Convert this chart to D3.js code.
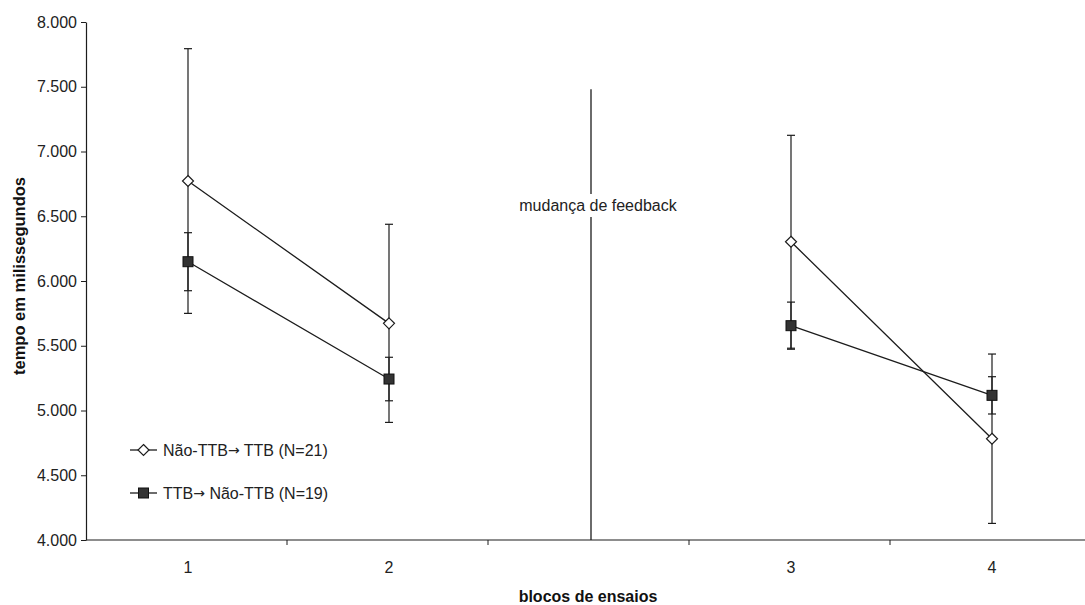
<!DOCTYPE html>
<html>
<head>
<meta charset="utf-8">
<script src="https://cdn.jsdelivr.net/npm/d3@7"></script>
<style>
  html, body { margin: 0; padding: 0; background: #fff; }
  svg { display: block; font-family: "Liberation Sans", Arial, sans-serif; }
</style>
</head>
<body>
<svg id="chart" width="1085" height="605"></svg>
<script>
// Blocks of trials; the empty slot marks the feedback change between blocks 2 and 3
const blocks = ["1", "2", "", "3", "4"];

// Mean response time (ms) and error bar half-length per block
const naoTtbMean = [6772, 5673, null, 6303, 4782];
const naoTtbErr  = [1022, 765, null, 822, 654];
const ttbMean    = [6149, 5243, null, 5655, 5117];
const ttbErr     = [224, 168, null, 182, 144];

// Legend labels split around the arrow so the arrow can use its own glyph font
const seriesNames = [["Não-TTB", "→", " TTB (N=21)"], ["TTB", "→", " Não-TTB (N=19)"]];
const yTicks = [4000, 4500, 5000, 5500, 6000, 6500, 7000, 7500, 8000];
const annotationText = "mudança de feedback";
const annotationTop = 7480;

const svg = d3.select("#chart");
const ink = "#1c1c1c";

const x = d3.scaleBand().domain(blocks).range([86, 1091]).padding(0);
const y = d3.scaleLinear().domain([4000, 8000]).range([540, 22]);
const cx = b => x(b) + x.bandwidth() / 2 + 1.5;

const fmt = d3.formatLocale({ decimal: ",", thousands: ".", grouping: [3], currency: ["", ""] }).format(",");

// Y axis
const yAxis = svg.append("g").attr("transform", "translate(86,0)")
  .call(d3.axisLeft(y).tickValues(yTicks).tickFormat(fmt).tickSize(5).tickSizeOuter(0));
yAxis.select(".domain").attr("stroke", ink).attr("stroke-width", 1.2);
yAxis.selectAll(".tick line").attr("stroke", ink);
yAxis.selectAll(".tick text").attr("font-size", 16).attr("fill", "#222").attr("x", -9)
  .attr("font-family", "'Liberation Sans', Arial, sans-serif");

// X axis: line, ticks at block boundaries, block labels centred
svg.append("line").attr("x1", 86).attr("x2", 1085).attr("y1", 540).attr("y2", 540)
  .attr("stroke", ink).attr("stroke-width", 1.2);
svg.append("g").selectAll("line").data(blocks.slice(1)).join("line")
  .attr("x1", d => x(d)).attr("x2", d => x(d)).attr("y1", 540).attr("y2", 545)
  .attr("stroke", ink).attr("stroke-width", 1);
svg.append("g").selectAll("text").data(blocks.filter(b => b !== "")).join("text")
  .attr("x", d => cx(d)).attr("y", 573).attr("text-anchor", "middle")
  .attr("font-size", 16).attr("fill", "#222").text(d => d);

// Axis titles
svg.append("text").attr("x", 588).attr("y", 602).attr("text-anchor", "middle")
  .attr("font-size", 16).attr("font-weight", "bold").attr("fill", "#111").text("blocos de ensaios");
svg.append("text").attr("transform", "translate(24.5,276) rotate(-90)").attr("text-anchor", "middle")
  .attr("font-size", 16.5).attr("font-weight", "bold").attr("fill", "#111").text("tempo em milissegundos");

// Feedback change marker
const gapX = cx("") + 1;
svg.append("line").attr("x1", gapX).attr("x2", gapX).attr("y1", y(annotationTop)).attr("y2", 540)
  .attr("stroke", ink).attr("stroke-width", 1.3);
svg.append("rect").attr("x", 517).attr("y", 194).attr("width", 163).attr("height", 23).attr("fill", "#fff");
svg.append("text").attr("x", 598).attr("y", 211).attr("text-anchor", "middle")
  .attr("font-size", 16).attr("fill", "#222").text(annotationText);

// Series
const series = [
  { name: seriesNames[0], mean: naoTtbMean, err: naoTtbErr, shape: "diamond" },
  { name: seriesNames[1], mean: ttbMean, err: ttbErr, shape: "square" }
];

function drawMarker(g, shape, px, py) {
  if (shape === "diamond") {
    const r = 5.5;
    g.append("path").attr("d", `M${px},${py - r}L${px + r},${py}L${px},${py + r}L${px - r},${py}Z`)
      .attr("fill", "#fff").attr("stroke", ink).attr("stroke-width", 1.2);
  } else {
    const s = 10;
    g.append("rect").attr("x", px - s / 2).attr("y", py - s / 2).attr("width", s).attr("height", s)
      .attr("fill", "#333").attr("stroke", "#111").attr("stroke-width", 1);
  }
}

const line = d3.line().defined(d => d.v != null).x(d => cx(d.b)).y(d => y(d.v));

series.forEach(s => {
  const pts = blocks.map((b, i) => ({ b, v: s.mean[i], e: s.err[i] }));
  const g = svg.append("g");
  // error bars
  pts.filter(p => p.v != null).forEach(p => {
    const px = cx(p.b);
    g.append("line").attr("x1", px).attr("x2", px).attr("y1", y(p.v + p.e)).attr("y2", y(p.v - p.e))
      .attr("stroke", ink).attr("stroke-width", 1.2);
    [p.v + p.e, p.v - p.e].forEach(v => {
      g.append("line").attr("x1", px - 4).attr("x2", px + 4).attr("y1", y(v)).attr("y2", y(v))
        .attr("stroke", ink).attr("stroke-width", 1.2);
    });
  });
  s.g = g; s.pts = pts;
});

series.forEach(s => {
  s.g.append("path").datum(s.pts).attr("d", line).attr("fill", "none")
    .attr("stroke", ink).attr("stroke-width", 1.3);
});
series.forEach(s => {
  s.pts.filter(p => p.v != null).forEach(p => drawMarker(s.g, s.shape, cx(p.b), y(p.v)));
});

// Legend
const legendY = [450, 493];
series.forEach((s, i) => {
  const g = svg.append("g");
  g.append("line").attr("x1", 130).attr("x2", 157).attr("y1", legendY[i]).attr("y2", legendY[i])
    .attr("stroke", ink).attr("stroke-width", 1.3);
  drawMarker(g, s.shape, 143.5, legendY[i]);
  const t = g.append("text").attr("x", 163).attr("y", legendY[i] + 6).attr("font-size", 16)
    .attr("fill", "#222");
  t.append("tspan").text(s.name[0]);
  t.append("tspan").attr("font-family", "'DejaVu Sans', sans-serif").attr("font-size", 14)
    .attr("dy", -1.5).text(s.name[1]);
  t.append("tspan").attr("dy", 1.5).text(s.name[2]);
});
</script>
</body>
</html>
